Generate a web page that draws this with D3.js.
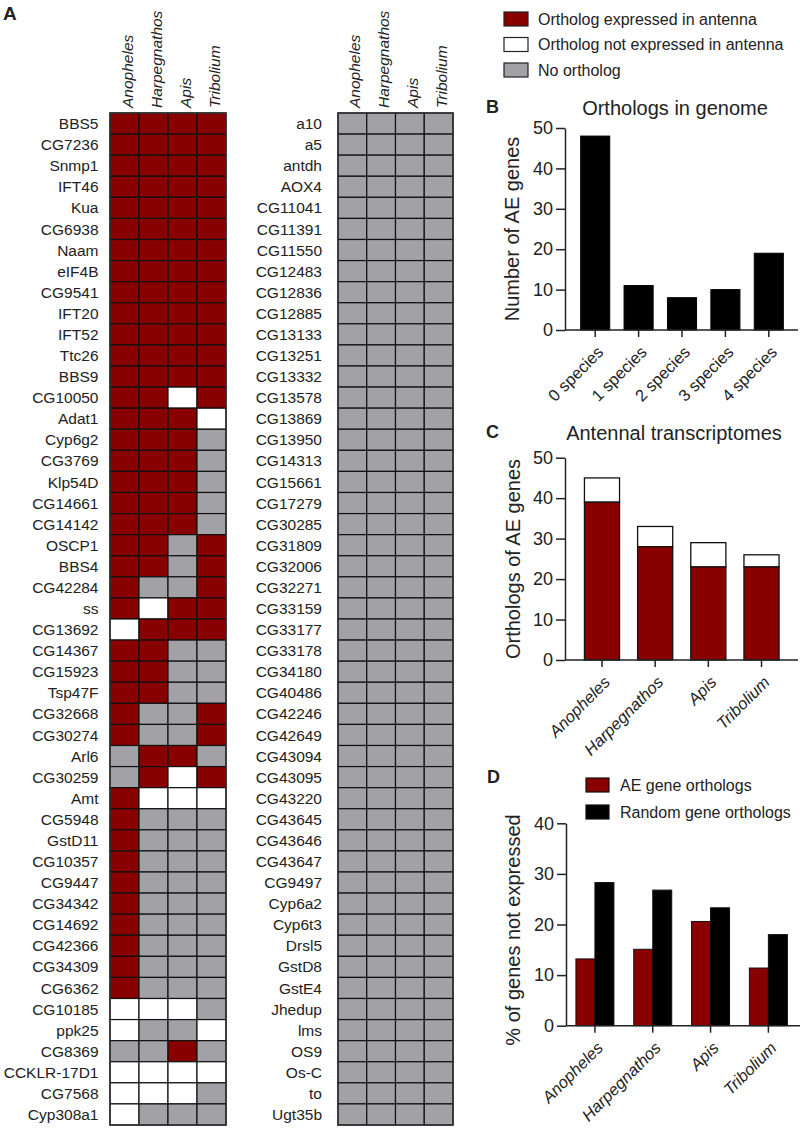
<!DOCTYPE html>
<html><head><meta charset="utf-8">
<script src="https://cdn.jsdelivr.net/npm/d3@7"></script>
<style>
body{margin:0;background:#fff;}
svg text{font-family:"Liberation Sans",Arial,sans-serif;fill:#222;}
</style></head>
<body><svg id="chart" width="800" height="1128"></svg>
<script>
// ---------- DATA ----------
const species = ["Anopheles","Harpegnathos","Apis","Tribolium"];
// E = ortholog expressed in antenna, N = ortholog not expressed, O = no ortholog
const genesLeft = ["BBS5","CG7236","Snmp1","IFT46","Kua","CG6938","Naam","eIF4B","CG9541","IFT20","IFT52","Ttc26","BBS9","CG10050","Adat1","Cyp6g2","CG3769","Klp54D","CG14661","CG14142","OSCP1","BBS4","CG42284","ss","CG13692","CG14367","CG15923","Tsp47F","CG32668","CG30274","Arl6","CG30259","Amt","CG5948","GstD11","CG10357","CG9447","CG34342","CG14692","CG42366","CG34309","CG6362","CG10185","ppk25","CG8369","CCKLR-17D1","CG7568","Cyp308a1"];
const statusLeft = ["EEEE","EEEE","EEEE","EEEE","EEEE","EEEE","EEEE","EEEE","EEEE","EEEE","EEEE","EEEE","EEEE","EENE","EEEN","EEEO","EEEO","EEEO","EEEO","EEEO","EEOE","EEOE","EOOE","ENEE","NEEE","EEOO","EEOO","EEOO","EOOE","EOOE","OEEO","OENE","ENNN","EOOO","EOOO","EOOO","EOOO","EOOO","EOOO","EOOO","EOOO","EOOO","NNNO","NOON","OOEO","NNNN","NNNO","NOOO"];
const genesRight = ["a10","a5","antdh","AOX4","CG11041","CG11391","CG11550","CG12483","CG12836","CG12885","CG13133","CG13251","CG13332","CG13578","CG13869","CG13950","CG14313","CG15661","CG17279","CG30285","CG31809","CG32006","CG32271","CG33159","CG33177","CG33178","CG34180","CG40486","CG42246","CG42649","CG43094","CG43095","CG43220","CG43645","CG43646","CG43647","CG9497","Cyp6a2","Cyp6t3","Drsl5","GstD8","GstE4","Jhedup","lms","OS9","Os-C","to","Ugt35b"];
const statusRight = ["OOOO","OOOO","OOOO","OOOO","OOOO","OOOO","OOOO","OOOO","OOOO","OOOO","OOOO","OOOO","OOOO","OOOO","OOOO","OOOO","OOOO","OOOO","OOOO","OOOO","OOOO","OOOO","OOOO","OOOO","OOOO","OOOO","OOOO","OOOO","OOOO","OOOO","OOOO","OOOO","OOOO","OOOO","OOOO","OOOO","OOOO","OOOO","OOOO","OOOO","OOOO","OOOO","OOOO","OOOO","OOOO","OOOO","OOOO","OOOO"];
const legendLabels = ["Ortholog expressed in antenna","Ortholog not expressed in antenna","No ortholog"];
const legendKeys = ["E","N","O"];

// Panel B
const bCategories = ["0 species","1 species","2 species","3 species","4 species"];
const bValues = [48, 11, 8, 10, 19];
const bTicks = [0,10,20,30,40,50];

// Panel C
const cTotal = [45, 33, 29, 26];
const cExpressed = [39, 28, 23, 23];
const cTicks = [0,10,20,30,40,50];

// Panel D
const dSeries = ["AE gene orthologs","Random gene orthologs"];
const dAE = [13.2, 15.1, 20.6, 11.4];
const dRandom = [28.3, 26.8, 23.3, 18.0];
const dTicks = [0,10,20,30,40];

// ---------- STYLE ----------
const RED = "#880000", GRAY = "#a2a2a6", WHITE = "#ffffff", INK = "#222";
const statusColor = {E: RED, N: WHITE, O: GRAY};

const svg = d3.select("#chart");

// ---------- PANEL A ----------
svg.append("text").attr("x", 3).attr("y", 20).attr("font-size", 19).attr("font-weight", "bold").text("A");

function heatmap(genes, status, x0, x1, gap) {
  const x = d3.scaleBand().domain(species).range([x0, x1]);
  const y = d3.scaleBand().domain(genes).range([113, 1125]);
  const g = svg.append("g");
  genes.forEach((gene, i) => {
    species.forEach((sp, j) => {
      g.append("rect")
        .attr("x", x(sp)).attr("y", y(gene))
        .attr("width", x.bandwidth()).attr("height", y.bandwidth())
        .attr("fill", statusColor[status[i][j]])
        .attr("stroke", "#111").attr("stroke-width", 1.2);
    });
    g.append("text")
      .attr("x", x0 - gap).attr("y", y(gene) + y.bandwidth() / 2)
      .attr("dy", "0.36em").attr("text-anchor", "end")
      .attr("font-size", 15.5).text(gene);
  });
  g.append("rect").attr("x", x0).attr("y", 113).attr("width", x1 - x0).attr("height", 1125 - 113)
    .attr("fill", "none").attr("stroke", "#333").attr("stroke-width", 1.6);
  species.forEach(sp => {
    g.append("text")
      .attr("transform", `translate(${x(sp) + x.bandwidth() / 2 + 8},108) rotate(-90)`)
      .attr("font-size", 15.5).attr("font-style", "italic").text(sp);
  });
}
heatmap(genesLeft, statusLeft, 110, 226, 11.5);
heatmap(genesRight, statusRight, 338, 453, 16);

// Legend
legendLabels.forEach((lab, i) => {
  const yy = 12 + i * 25.5;
  svg.append("rect").attr("x", 504).attr("y", yy).attr("width", 24).attr("height", 14)
    .attr("fill", statusColor[legendKeys[i]]).attr("stroke", "#222").attr("stroke-width", 1.2);
  svg.append("text").attr("x", 538).attr("y", yy + 7).attr("dy", "0.36em")
    .attr("font-size", 16).text(lab);
});

// ---------- helpers ----------
function styleAxis(sel) {
  sel.selectAll(".domain").attr("stroke", INK).attr("stroke-width", 1.5);
  sel.selectAll(".tick line").attr("stroke", INK).attr("stroke-width", 1.5);
  sel.selectAll("text").attr("fill", INK).style("font-family", '"Liberation Sans",Arial,sans-serif');
}
function yAxis(y, ticks, x0) {
  const a = svg.append("g").attr("transform", `translate(${x0},0)`)
    .call(d3.axisLeft(y).tickValues(ticks).tickSize(9).tickPadding(3).tickSizeOuter(0));
  a.selectAll("text").attr("font-size", 18);
  styleAxis(a);
}
function xAxis(x, y0, x0, x1, italic) {
  const a = svg.append("g").attr("transform", `translate(0,${y0})`)
    .call(d3.axisBottom(x).tickSize(7).tickSizeOuter(0));
  a.select(".domain").attr("d", `M${x0},0H${x1}`);
  a.selectAll("text")
    .attr("font-size", 16.5)
    .attr("font-style", italic ? "italic" : "normal")
    .attr("text-anchor", "end")
    .attr("x", 0).attr("y", 0).attr("dy", "0.36em")
    .attr("transform", "translate(5,19) rotate(-45)");
  styleAxis(a);
}
function yLabel(text, cx, cy) {
  svg.append("text").attr("transform", `translate(${cx},${cy}) rotate(-90)`)
    .attr("text-anchor", "middle").attr("dy", "0.36em").attr("font-size", 20).text(text);
}

// ---------- PANEL B ----------
{
  svg.append("text").attr("x", 486).attr("y", 113).attr("font-size", 18).attr("font-weight", "bold").text("B");
  svg.append("text").attr("x", 675).attr("y", 115).attr("text-anchor", "middle").attr("font-size", 20).text("Orthologs in genome");
  const y = d3.scaleLinear().domain([0, 50]).range([330, 128]);
  const x = d3.scaleBand().domain(bCategories).range([573.5, 790.5]).paddingInner(0.33).paddingOuter(0.165);
  svg.append("g").selectAll("rect").data(bValues).join("rect")
    .attr("x", (d, i) => x(bCategories[i])).attr("width", x.bandwidth())
    .attr("y", d => y(d)).attr("height", d => y(0) - y(d))
    .attr("fill", "#000").attr("stroke", "#000").attr("stroke-width", 1);
  yAxis(y, bTicks, 565);
  xAxis(x, 330, 565, 798, false);
  yLabel("Number of AE genes", 512, 229);
}

// ---------- PANEL C ----------
{
  svg.append("text").attr("x", 486).attr("y", 438).attr("font-size", 18).attr("font-weight", "bold").text("C");
  svg.append("text").attr("x", 674).attr("y", 440).attr("text-anchor", "middle").attr("font-size", 20).text("Antennal transcriptomes");
  const y = d3.scaleLinear().domain([0, 50]).range([660, 457.7]);
  const x = d3.scaleBand().domain(species).range([575.4, 788.1]).paddingInner(0.34).paddingOuter(0.17);
  const g = svg.append("g");
  species.forEach((sp, i) => {
    g.append("rect").attr("x", x(sp)).attr("width", x.bandwidth())
      .attr("y", y(cTotal[i])).attr("height", y(cExpressed[i]) - y(cTotal[i]))
      .attr("fill", WHITE).attr("stroke", "#111").attr("stroke-width", 1.3);
    g.append("rect").attr("x", x(sp)).attr("width", x.bandwidth())
      .attr("y", y(cExpressed[i])).attr("height", y(0) - y(cExpressed[i]))
      .attr("fill", RED).attr("stroke", "#111").attr("stroke-width", 1.3);
  });
  yAxis(y, cTicks, 565);
  xAxis(x, 660, 565, 798, true);
  yLabel("Orthologs of AE genes", 513, 559);
}

// ---------- PANEL D ----------
{
  svg.append("text").attr("x", 487).attr("y", 783).attr("font-size", 18).attr("font-weight", "bold").text("D");
  const colors = [RED, "#000"];
  dSeries.forEach((s, i) => {
    const yy = 778 + i * 27;
    svg.append("rect").attr("x", 586).attr("y", yy).attr("width", 23).attr("height", 14)
      .attr("fill", colors[i]).attr("stroke", "#111").attr("stroke-width", 1.2);
    svg.append("text").attr("x", 620).attr("y", yy + 7).attr("dy", "0.36em").attr("font-size", 16).text(s);
  });
  const y = d3.scaleLinear().domain([0, 40]).range([1025.7, 823.3]);
  const x = d3.scaleBand().domain(species).range([566.1, 797.2]).paddingInner(0.343).paddingOuter(0.17);
  const xi = d3.scaleBand().domain(dSeries).range([0, x.bandwidth()]);
  const vals = [dAE, dRandom];
  const g = svg.append("g");
  species.forEach((sp, i) => {
    dSeries.forEach((s, k) => {
      const v = vals[k][i];
      g.append("rect").attr("x", x(sp) + xi(s)).attr("width", xi.bandwidth())
        .attr("y", y(v)).attr("height", y(0) - y(v))
        .attr("fill", colors[k]).attr("stroke", "#111").attr("stroke-width", 1);
    });
  });
  yAxis(y, dTicks, 566);
  xAxis(x, 1025.7, 566, 800, true);
  yLabel("% of genes not expressed", 513, 930);
}
</script></body></html>
